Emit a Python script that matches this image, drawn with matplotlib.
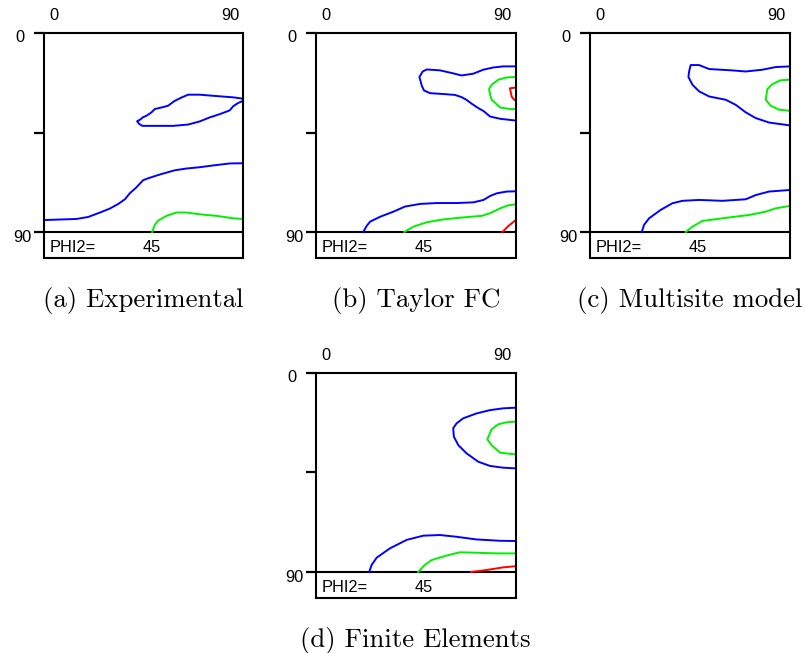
import matplotlib
matplotlib.use("Agg")
import matplotlib.pyplot as plt

# Section PHI2 = 45 of the ODF: iso-intensity contours (x: PHI1 0..90, y: PHI 0..90)
BLUE = "#0000ff"
GREEN = "#00f000"
RED = "#ff0000"

captions = ["(a) Experimental", "(b) Taylor FC", "(c) Multisite model", "(d) Finite Elements"]
phi2_value = "45"
axis_min_label = "0"
axis_max_label = "90"

# ---- (a) Experimental ----
a_blue_loop_x = [90, 85.5, 76.5, 70.4, 65.2, 62.6, 59.1, 56.1, 53.9, 50.1, 48.6, 46.4, 44.8, 43.3, 42.1,
                 43.0, 44.5, 50.9, 58.4, 65.2, 70.4, 74.9, 79.5, 84.0, 85.5, 87.7, 90]
a_blue_loop_y = [29.7, 29.1, 28.4, 27.9, 27.9, 29.0, 30.7, 32.9, 33.5, 34.4, 35.9, 37.4, 38.1, 39.3, 39.9,
                 41.1, 42.0, 42.0, 42.0, 41.4, 40.0, 38.2, 36.7, 35.0, 33.2, 31.7, 30.7]
a_blue_low_x = [0, 14.7, 20.0, 25.3, 29.8, 33.6, 36.6, 38.8, 41.8, 44.8, 47.1, 52.4, 59.1, 64.4, 70.4, 76.5, 84.0, 90]
a_blue_low_y = [84.6, 84.1, 83.2, 81.2, 79.4, 77.3, 75.2, 72.5, 69.8, 66.6, 65.7, 64.0, 62.1, 61.3, 60.7, 59.9, 59.0, 58.9]
a_green_x = [48.9, 50.1, 51.6, 55.4, 59.9, 64.4, 70.4, 78.0, 85.5, 90]
a_green_y = [90, 86.8, 84.9, 82.7, 81.2, 81.2, 82.0, 82.7, 83.8, 84.1]

# ---- (b) Taylor FC ----
b_blue_up_x = [90, 84.4, 79.9, 75.4, 70.9, 65.6, 61.2, 55.9, 49.9, 48.1, 46.6, 47.7, 48.7, 51.4, 57.4, 62.6,
               65.6, 67.8, 70.2, 73.2, 75.5, 78.5, 83.0, 90]
b_blue_up_y = [15.1, 15.1, 15.6, 16.6, 18.4, 19.2, 18.1, 16.9, 16.5, 17.4, 19.9, 23.9, 26.0, 27.2, 27.6, 28.0,
               29.0, 30.2, 32.0, 34.0, 35.3, 37.8, 38.8, 39.6]
b_green_up_x = [90, 86.0, 82.2, 79.2, 78.0, 78.5, 79.2, 83.0, 87.5, 90]
b_green_up_y = [19.9, 20.1, 21.1, 23.4, 25.4, 28.0, 30.2, 33.7, 34.4, 34.4]
b_red_up_x = [90, 87.4, 88.2, 89.4, 90]
b_red_up_y = [24.7, 25.0, 28.8, 30.3, 30.3]
b_blue_low_x = [21.3, 22.8, 24.4, 28.9, 34.9, 40.1, 46.9, 54.4, 63.4, 70.9, 75.5, 78.5, 81.5, 86.0, 90]
b_blue_low_y = [90, 87.3, 85.3, 83.1, 80.8, 78.5, 77.3, 76.9, 76.9, 76.6, 75.5, 73.7, 72.5, 71.7, 71.6]
b_green_low_x = [39.8, 43.9, 49.9, 57.4, 66.4, 74.7, 78.5, 83.0, 86.7, 90]
b_green_low_y = [90, 87.6, 85.6, 84.3, 83.4, 82.7, 81.5, 79.3, 77.9, 77.5]
b_red_low_x = [84.0, 86.7, 90]
b_red_low_y = [90, 87.3, 84.6]

# ---- (c) Multisite model ----
c_blue_up_x = [90, 83.6, 77.6, 70.1, 63.8, 53.6, 49.1, 45.3, 44.6, 44.3, 46.1, 49.1, 53.6, 61.1, 65.6, 70.1,
               74.6, 80.6, 90]
c_blue_up_y = [15.1, 15.4, 16.6, 17.4, 16.9, 16.3, 14.5, 14.5, 17.4, 19.9, 23.4, 26.4, 28.7, 30.2, 32.5, 35.9,
               38.5, 40.5, 41.8]
c_green_up_x = [90, 85.8, 82.1, 79.8, 79.1, 81.3, 85.1, 90]
c_green_up_y = [21.1, 21.4, 23.1, 25.4, 30.2, 32.9, 34.7, 35.2]
c_blue_low_x = [23.3, 24.3, 26.6, 31.8, 37.1, 41.6, 49.1, 59.6, 70.1, 74.6, 80.6, 90]
c_blue_low_y = [90, 86.8, 83.8, 80.0, 77.0, 75.9, 75.5, 75.9, 75.2, 73.3, 71.7, 71.0]
c_green_low_x = [43.1, 46.1, 50.6, 59.6, 71.6, 79.1, 83.6, 90]
c_green_low_y = [90, 87.6, 85.0, 83.8, 82.3, 80.8, 79.3, 78.2]

# ---- (d) Finite Elements ----
d_blue_up_x = [90, 84.4, 78.5, 72.4, 66.4, 63.4, 61.9, 62.2, 64.2, 67.9, 73.2, 78.5, 84.4, 90]
d_blue_up_y = [15.8, 16.1, 16.9, 18.4, 20.6, 22.9, 25.1, 28.9, 32.7, 36.4, 40.2, 42.1, 42.9, 43.2]
d_green_up_x = [90, 86.0, 82.2, 79.2, 77.3, 79.2, 83.0, 90]
d_green_up_y = [22.1, 22.4, 23.3, 25.6, 30.1, 32.7, 36.1, 36.9]
d_blue_low_x = [24.0, 25.1, 27.4, 33.4, 40.9, 48.4, 55.9, 63.4, 72.4, 83.0, 90]
d_blue_low_y = [90, 86.8, 83.5, 79.3, 75.5, 73.6, 73.3, 74.1, 75.3, 75.9, 76.0]
d_green_low_x = [46.1, 49.1, 52.2, 58.9, 64.9, 72.4, 81.5, 90]
d_green_low_y = [90, 86.8, 84.6, 82.6, 81.1, 81.3, 81.6, 81.6]
d_red_low_x = [69.9, 77.0, 84.5, 90]
d_red_low_y = [90, 89.1, 87.9, 87.4]

panels = [
    [(a_blue_loop_x, a_blue_loop_y, BLUE), (a_blue_low_x, a_blue_low_y, BLUE), (a_green_x, a_green_y, GREEN)],
    [(b_blue_up_x, b_blue_up_y, BLUE), (b_green_up_x, b_green_up_y, GREEN), (b_red_up_x, b_red_up_y, RED),
     (b_blue_low_x, b_blue_low_y, BLUE), (b_green_low_x, b_green_low_y, GREEN), (b_red_low_x, b_red_low_y, RED)],
    [(c_blue_up_x, c_blue_up_y, BLUE), (c_green_up_x, c_green_up_y, GREEN),
     (c_blue_low_x, c_blue_low_y, BLUE), (c_green_low_x, c_green_low_y, GREEN)],
    [(d_blue_up_x, d_blue_up_y, BLUE), (d_green_up_x, d_green_up_y, GREEN),
     (d_blue_low_x, d_blue_low_y, BLUE), (d_green_low_x, d_green_low_y, GREEN), (d_red_low_x, d_red_low_y, RED)],
]

W, H = 806, 653
fig = plt.figure(figsize=(W / 100, H / 100), dpi=100)

# pixel geometry of each panel: left, right, top of map, bottom of map, bottom of label strip
geom = [
    (44, 243, 33, 232, 258),
    (316, 515.7, 33, 232, 258),
    (590, 790, 33, 232, 258),
    (316, 515.5, 372.7, 572, 598),
]
PX = 0.72  # points per pixel at 100 dpi
label_font = ["Liberation Sans", "DejaVu Sans"]

for (left, right, top, mapbot, boxbot), curves, cap in zip(geom, panels, captions):
    ax = fig.add_axes([left / W, (H - boxbot) / H, (right - left) / W, (boxbot - top) / H])
    strip = (boxbot - mapbot) * 90.0 / (mapbot - top)
    ax.set_xlim(0, 90)
    ax.set_ylim(90 + strip, 0)
    for s in ax.spines.values():
        s.set_linewidth(1.5)
        s.set_color("black")
    ax.axhline(90, color="black", lw=1.5)
    ax.set_xticks([])
    ax.set_yticks([0, 45, 90])
    ax.set_yticklabels([])
    ax.tick_params(axis="y", direction="out", length=10 * PX, width=1.6, color="black")

    for xs, ys, col in curves:
        ax.plot(xs, ys, color=col, lw=1.4, solid_joinstyle="round", clip_on=False)

    fs = 11.8
    ax.annotate(axis_min_label, xy=(0, 0), xytext=(-24 * PX, -5 * PX), textcoords="offset points",
                ha="center", va="center", fontsize=fs, family=label_font, annotation_clip=False)
    ax.annotate(axis_max_label, xy=(0, 90), xytext=(-22 * PX, -6 * PX), textcoords="offset points",
                ha="center", va="center", fontsize=fs, family=label_font, annotation_clip=False)
    ax.annotate(axis_min_label, xy=(0, 0), xytext=(5 * PX, 17 * PX), textcoords="offset points",
                ha="left", va="center", fontsize=fs, family=label_font, annotation_clip=False)
    ax.annotate(axis_max_label, xy=(90, 0), xytext=(-4 * PX, 17 * PX), textcoords="offset points",
                ha="right", va="center", fontsize=fs, family=label_font, annotation_clip=False)
    ax.annotate("PHI2=", xy=(0, 90), xytext=(6 * PX, -15 * PX), textcoords="offset points",
                ha="left", va="center", fontsize=fs, family=label_font, annotation_clip=False)
    ax.annotate(phi2_value, xy=(0, 90), xytext=(99 * PX, -15 * PX), textcoords="offset points",
                ha="left", va="center", fontsize=fs, family=label_font, annotation_clip=False)

    cx = (left + right) / 2
    fig.text(cx / W, (H - (boxbot + 49.5)) / H, cap, ha="center", va="baseline",
             fontsize=19.3, family=["cmr10", "DejaVu Serif"])

fig.savefig("out.png", dpi=100)
